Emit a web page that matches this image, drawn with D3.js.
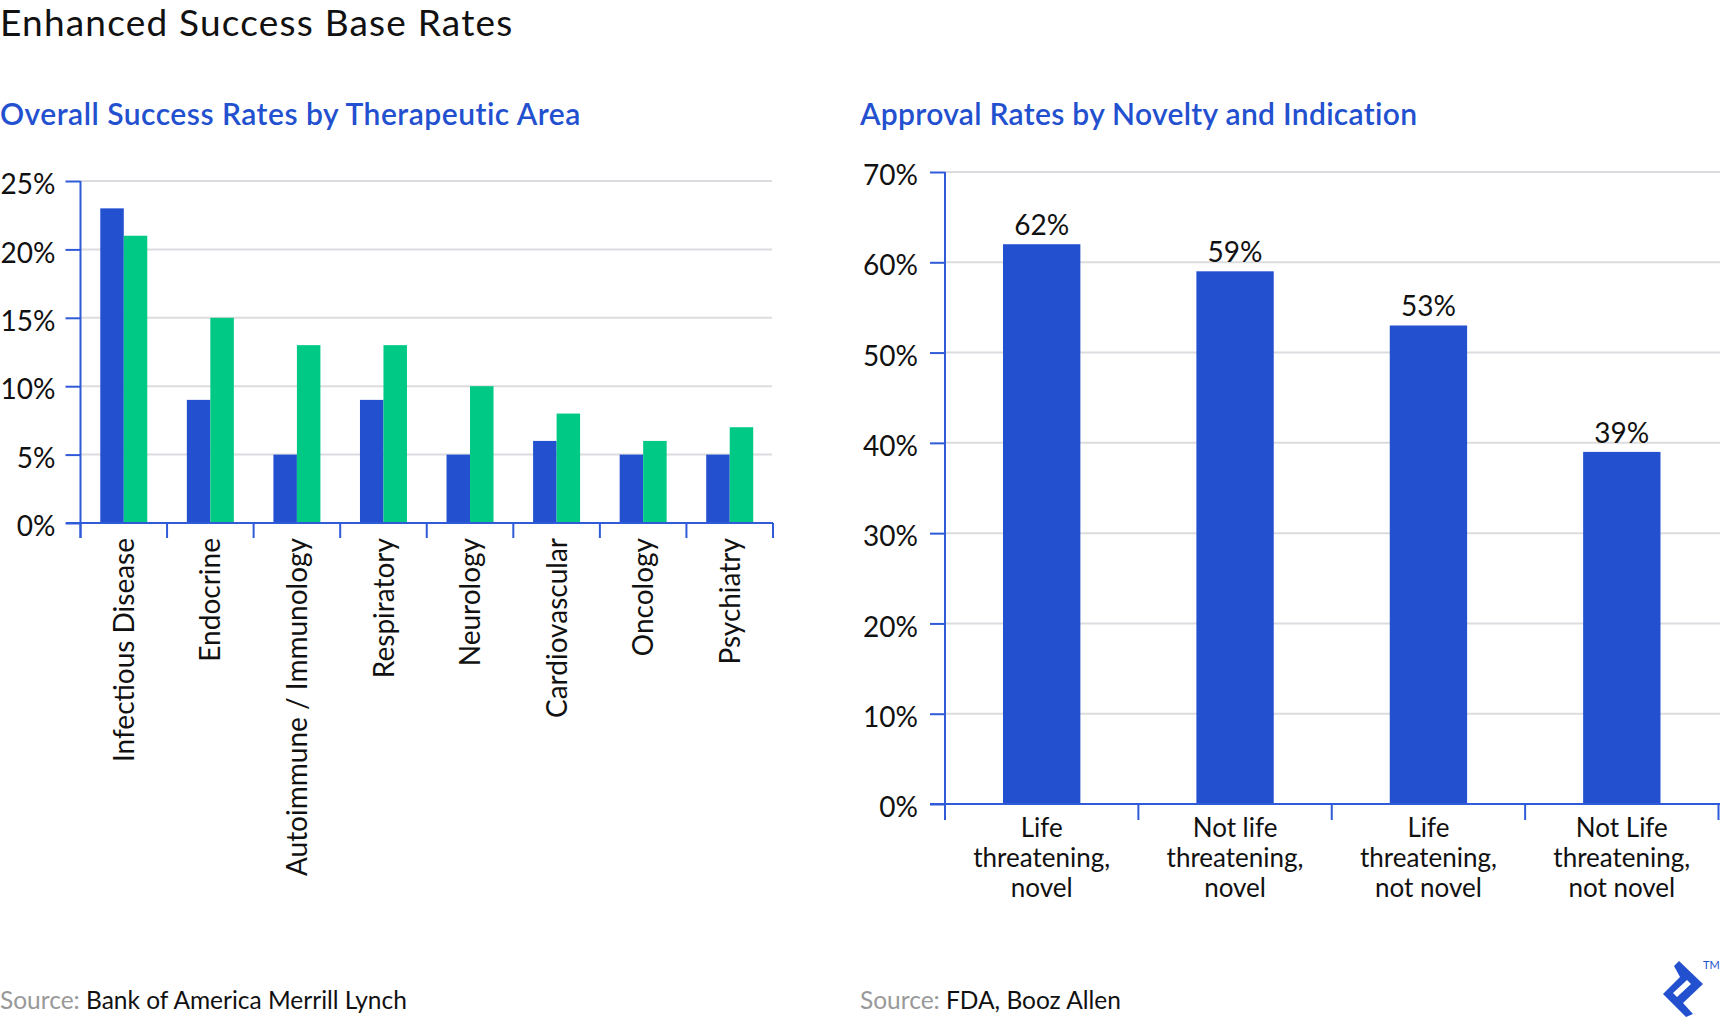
<!DOCTYPE html>
<html>
<head>
<meta charset="utf-8">
<script src="https://cdn.jsdelivr.net/npm/d3@7/dist/d3.min.js"></script>
<style>
  body { margin: 0; background: #fff; }
  text { font-family: Lato, sans-serif; fill: #111; }
</style>
</head>
<body>
<svg id="chart" width="1720" height="1019"></svg>
<script>
// left chart data
const areas = ['Infectious Disease', 'Endocrine', 'Autoimmune / Immunology', 'Respiratory',
  'Neurology', 'Cardiovascular', 'Oncology', 'Psychiatry']
const seriesBlue = [23, 9, 5, 9, 5, 6, 5, 5]
const seriesGreen = [21, 15, 13, 13, 10, 8, 6, 7]
const leftTicks = [0, 5, 10, 15, 20, 25]

// right chart data
const groups = [
  ['Life', 'threatening,', 'novel'],
  ['Not life', 'threatening,', 'novel'],
  ['Life', 'threatening,', 'not novel'],
  ['Not Life', 'threatening,', 'not novel']
]
const approval = [62, 59, 53, 39]
const rightTicks = [0, 10, 20, 30, 40, 50, 60, 70]

const blue = '#2350cf'
const green = '#00c985'
const axisBlue = '#2f5ad8'
const gridGray = '#dcdce0'

const svg = d3.select('#chart')

svg.append('text')
  .attr('x', 0).attr('y', 36)
  .style('font-size', '37px').style('letter-spacing', '1.2px')
  .text('Enhanced Success Base Rates')

// ---------- left chart ----------
const xL = d3.scaleBand().domain(areas).range([80.5, 773]).paddingInner(0.457).paddingOuter(0.2285)
const subL = d3.scaleBand().domain(['a', 'b']).range([0, xL.bandwidth()])
const yL = d3.scaleLinear().domain([0, 25]).range([523, 181])

svg.append('text')
  .attr('x', 0).attr('y', 125)
  .style('font-size', '30px').style('font-weight', 600).style('letter-spacing', '0.5px').style('fill', blue)
  .text('Overall Success Rates by Therapeutic Area')

const gL = svg.append('g')

gL.append('g').selectAll('line')
  .data(leftTicks.filter(d => d > 0))
  .enter().append('line')
  .attr('x1', 80.5).attr('x2', 772)
  .attr('y1', d => yL(d)).attr('y2', d => yL(d))
  .style('stroke', gridGray).style('stroke-width', 2)

const pairs = gL.append('g').selectAll('g')
  .data(areas.map((a, i) => ({ area: a, vals: [seriesBlue[i], seriesGreen[i]] })))
  .enter().append('g')
  .attr('transform', d => 'translate(' + xL(d.area) + ',0)')

pairs.selectAll('rect')
  .data(d => d.vals.map((v, k) => ({ k: k ? 'b' : 'a', v: v })))
  .enter().append('rect')
  .attr('x', d => subL(d.k))
  .attr('width', subL.bandwidth())
  .attr('y', d => yL(d.v))
  .attr('height', d => yL(0) - yL(d.v))
  .style('fill', d => d.k == 'a' ? blue : green)

const yAxisL = d3.axisLeft(yL).tickValues(leftTicks).tickSize(15).tickPadding(10).tickFormat(d => d + '%')
gL.append('g')
  .attr('transform', 'translate(80.5,0)')
  .call(yAxisL)
  .call(g => g.select('.domain').remove())
  .call(g => g.selectAll('line').style('stroke', axisBlue).style('stroke-width', 2))
  .call(g => g.selectAll('text').attr('dy', '0.45em').style('font-size', '28px').style('font-family', 'Lato, sans-serif').style('fill', '#111'))

gL.append('line')
  .attr('x1', 80.5).attr('x2', 80.5).attr('y1', yL(25)).attr('y2', yL(0) + 15)
  .style('stroke', axisBlue).style('stroke-width', 2)
gL.append('line')
  .attr('x1', 66).attr('x2', 773).attr('y1', yL(0)).attr('y2', yL(0))
  .style('stroke', axisBlue).style('stroke-width', 2)

const stepL = xL.step()
gL.append('g').selectAll('line')
  .data(d3.range(areas.length + 1))
  .enter().append('line')
  .attr('x1', i => 80.5 + i * stepL).attr('x2', i => 80.5 + i * stepL)
  .attr('y1', yL(0)).attr('y2', yL(0) + 15)
  .style('stroke', axisBlue).style('stroke-width', 2)

gL.append('g').selectAll('text')
  .data(areas)
  .enter().append('text')
  .attr('transform', d => 'translate(' + (xL(d) + xL.bandwidth() / 2) + ',' + (yL(0) + 15) + ') rotate(-90)')
  .attr('dy', '0.36em')
  .attr('text-anchor', 'end')
  .style('font-size', '28px')
  .text(d => d)

svg.append('text')
  .attr('x', 0).attr('y', 1009)
  .style('font-size', '24.5px')
  .call(t => t.append('tspan').style('fill', '#999').text('Source: '))
  .call(t => t.append('tspan').text('Bank of America Merrill Lynch'))

// ---------- right chart ----------
const xR = d3.scaleBand().domain(d3.range(groups.length)).range([945, 1718.5]).paddingInner(0.6).paddingOuter(0.3)
const yR = d3.scaleLinear().domain([0, 70]).range([804, 172])

svg.append('text')
  .attr('x', 860).attr('y', 125)
  .style('font-size', '30px').style('font-weight', 600).style('letter-spacing', '0.3px').style('fill', blue)
  .text('Approval Rates by Novelty and Indication')

const gR = svg.append('g')

gR.append('g').selectAll('line')
  .data(rightTicks.filter(d => d > 0))
  .enter().append('line')
  .attr('x1', 945).attr('x2', 1720)
  .attr('y1', d => yR(d)).attr('y2', d => yR(d))
  .style('stroke', gridGray).style('stroke-width', 2)

gR.append('g').selectAll('rect')
  .data(approval)
  .enter().append('rect')
  .attr('x', (d, i) => xR(i))
  .attr('width', xR.bandwidth())
  .attr('y', d => yR(d))
  .attr('height', d => yR(0) - yR(d))
  .style('fill', blue)

gR.append('g').selectAll('text')
  .data(approval)
  .enter().append('text')
  .attr('x', (d, i) => xR(i) + xR.bandwidth() / 2)
  .attr('y', d => yR(d) - 9)
  .attr('text-anchor', 'middle')
  .style('font-size', '28px')
  .text(d => d + '%')

const yAxisR = d3.axisLeft(yR).tickValues(rightTicks).tickSize(15).tickPadding(12).tickFormat(d => d + '%')
gR.append('g')
  .attr('transform', 'translate(945,0)')
  .call(yAxisR)
  .call(g => g.select('.domain').remove())
  .call(g => g.selectAll('line').style('stroke', axisBlue).style('stroke-width', 2))
  .call(g => g.selectAll('text').attr('dy', '0.45em').style('font-size', '28px').style('font-family', 'Lato, sans-serif').style('fill', '#111'))

gR.append('line')
  .attr('x1', 945).attr('x2', 945).attr('y1', yR(70)).attr('y2', yR(0) + 16)
  .style('stroke', axisBlue).style('stroke-width', 2)
gR.append('line')
  .attr('x1', 930).attr('x2', 1720).attr('y1', yR(0)).attr('y2', yR(0))
  .style('stroke', axisBlue).style('stroke-width', 2)

const stepR = xR.step()
gR.append('g').selectAll('line')
  .data(d3.range(groups.length + 1))
  .enter().append('line')
  .attr('x1', i => Math.min(945 + i * stepR, 1718.5)).attr('x2', i => Math.min(945 + i * stepR, 1718.5))
  .attr('y1', yR(0)).attr('y2', yR(0) + 16)
  .style('stroke', axisBlue).style('stroke-width', 2)

const lab = gR.append('g').selectAll('text')
  .data(groups)
  .enter().append('text')
  .attr('text-anchor', 'middle')
  .style('font-size', '26px')
lab.selectAll('tspan')
  .data((d, i) => d.map(s => ({ s: s, i: i })))
  .enter().append('tspan')
  .attr('x', d => xR(d.i) + xR.bandwidth() / 2)
  .attr('y', (d, k) => 837 + k * 30)
  .text(d => d.s)

svg.append('text')
  .attr('x', 860).attr('y', 1009)
  .style('font-size', '24.5px')
  .call(t => t.append('tspan').style('fill', '#999').text('Source: '))
  .call(t => t.append('tspan').text('FDA, Booz Allen'))

// logo
svg.append('path')
  .attr('d', 'M1679,961 L1703,984 L1683,1003 L1693,1014 L1686,1017 L1663,994 L1680,977 L1674,966 Z ' +
    'M1687,980 L1691,984 L1677,997 L1673,993 Z')
  .attr('fill-rule', 'evenodd')
  .style('fill', blue)
svg.append('text')
  .attr('x', 1703).attr('y', 969)
  .style('font-size', '11px').style('fill', blue)
  .text('TM')
</script>
</body>
</html>
